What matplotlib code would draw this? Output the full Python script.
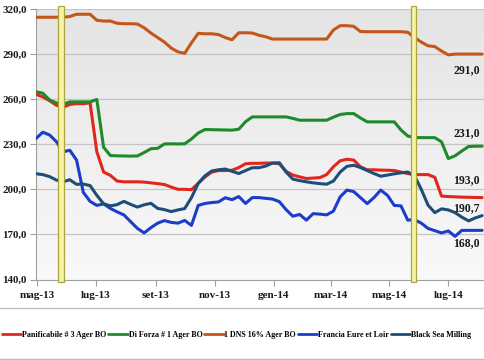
import numpy as np
import pandas as pd
import matplotlib
matplotlib.use("Agg")
import matplotlib.pyplot as plt
import matplotlib.dates as mdates
from matplotlib.patches import Rectangle
from matplotlib.lines import Line2D
from matplotlib.colors import LinearSegmentedColormap

# ---------------- data ----------------
dates = pd.date_range("2013-04-30", periods=67, freq="7D")

panificabile = [263.3, 261.5, 259.0, 256.0, 254.5, 256.5, 257.0, 257.0, 257.5, 225.0,
                211.5, 209.3, 205.5, 205.0, 205.0, 205.0, 204.8, 204.3, 203.8, 203.2,
                201.5, 200.0, 200.0, 199.8, 204.0, 208.2, 211.5, 212.5, 212.5, 212.7,
                214.5, 217.0, 217.3, 217.3, 217.5, 217.5, 217.0, 212.0, 209.5, 208.3,
                207.2, 207.5, 207.8, 209.8, 215.0, 219.0, 220.0, 219.5, 215.0, 213.0,
                213.0, 212.8, 212.7, 212.5, 211.5, 210.5, 209.8, 209.8, 209.8, 208.0,
                195.5, 195.2, 195.0, 194.8, 194.7, 194.6, 194.5]

di_forza = [264.9, 264.0, 259.5, 257.5, 256.5, 258.2, 258.2, 258.2, 258.2, 259.8,
            228.0, 222.5, 222.3, 222.2, 222.1, 222.2, 224.5, 227.0, 227.3, 230.2,
            230.3, 230.2, 230.3, 233.5, 237.5, 239.8, 239.7, 239.6, 239.5, 239.4,
            240.0, 245.0, 248.2, 248.2, 248.2, 248.2, 248.2, 248.2, 247.2, 246.0,
            246.0, 246.0, 246.0, 246.0, 248.0, 249.8, 250.4, 250.4, 247.5, 244.9,
            244.9, 244.9, 244.9, 244.9, 239.5, 235.5, 234.4, 234.4, 234.4, 234.4,
            231.6, 220.5, 222.3, 225.5, 228.5, 228.7, 228.7]

dns = [314.5, 314.5, 314.5, 314.5, 314.5, 315.0, 316.5, 316.5, 316.5, 312.5,
       312.0, 312.0, 310.5, 310.2, 310.2, 310.0, 307.5, 304.0, 301.0, 298.0,
       294.0, 291.5, 290.5, 297.5, 303.8, 303.5, 303.5, 303.0, 301.0, 299.5,
       304.2, 304.2, 304.0, 302.5, 301.5, 300.0, 300.0, 300.0, 300.0, 300.0,
       300.0, 300.0, 300.0, 300.0, 306.0, 308.9, 308.9, 308.5, 305.0, 304.9,
       304.9, 304.9, 304.9, 304.9, 304.9, 304.5, 301.0, 298.0, 295.5, 295.0,
       292.0, 289.5, 290.0, 290.0, 290.0, 290.0, 290.0]

francia = [233.8, 238.0, 236.2, 231.8, 225.0, 226.0, 219.5, 198.0, 192.0, 189.3,
           190.3, 187.3, 185.0, 183.0, 178.5, 174.0, 171.0, 174.5, 177.5, 179.2,
           178.0, 177.5, 179.3, 176.0, 189.3, 190.6, 191.2, 191.6, 194.4, 193.1,
           195.2, 190.6, 194.5, 194.5, 194.0, 193.5, 191.8, 186.5, 182.1, 183.3,
           179.5, 183.8, 183.5, 183.0, 185.5, 195.0, 199.5, 198.5, 194.5, 190.5,
           194.5, 199.5, 196.0, 189.3, 189.0, 179.5, 179.8, 177.5, 174.0, 172.5,
           171.0, 172.3, 168.7, 172.7, 172.7, 172.7, 172.7]

black_sea = [210.4, 209.8, 208.5, 206.2, 205.0, 206.4, 203.3, 203.5, 202.5, 196.0,
             190.4, 189.0, 189.8, 192.0, 190.0, 188.2, 189.7, 190.7, 187.3, 186.5,
             185.2, 186.3, 187.2, 194.5, 204.0, 209.0, 212.2, 213.0, 213.5, 212.0,
             210.5, 212.5, 214.4, 214.4, 215.5, 217.5, 217.7, 211.5, 206.8, 205.8,
             205.0, 204.3, 203.8, 203.4, 205.5, 211.5, 215.3, 216.0, 214.5, 212.5,
             210.5, 208.7, 209.5, 210.3, 211.0, 211.5, 209.0, 200.0, 189.5, 184.5,
             187.0, 186.3, 184.5, 181.5, 179.0, 181.0, 182.5]

series_names = ["Panificabile # 3 Ager BO", "Di Forza # 1 Ager BO", "1 DNS 16% Ager BO",
                "Francia Eure et Loir", "Black Sea Milling"]
series_colors = ["#e2261c", "#1e8a2a", "#c4561a", "#1c3ccc", "#1e4d78"]

month_ticks = ["2013-05-01", "2013-07-01", "2013-09-01", "2013-11-01",
               "2014-01-01", "2014-03-01", "2014-05-01", "2014-07-01"]
month_labels = ["mag-13", "lug-13", "set-13", "nov-13", "gen-14", "mar-14", "mag-14", "lug-14"]
y_ticks = [140, 170, 200, 230, 260, 290, 320]

highlight_spans = [("2013-05-23", "2013-05-29"), ("2014-05-23", "2014-05-29")]
end_labels = ["291,0", "231,0", "193,0", "190,7", "168,0"]
end_label_y = [279.3, 237.3, 206.0, 187.3, 164.0]

# ---------------- figure ----------------
SERIF = ["Liberation Serif", "DejaVu Serif"]
fig = plt.figure(figsize=(4.85, 3.6), dpi=100)
fig.patch.set_facecolor("white")
ax = fig.add_axes([36 / 485, 1 - 279.5 / 360, 449 / 485, 270.5 / 360])

# gradient background
grad = np.linspace(0, 1, 256).reshape(-1, 1)
cmap = LinearSegmentedColormap.from_list("bg", ["#f9f9f9", "#e4e4e4"])
ax.imshow(grad, aspect="auto", cmap=cmap, extent=[0, 1, 1, 0],
          transform=ax.transAxes, zorder=0)

for v in y_ticks:
    ax.axhline(v, color="#c4c4c4", lw=0.9, zorder=1)

all_series = [panificabile, di_forza, dns, francia, black_sea]
for vals, name, col in zip(all_series, series_names, series_colors):
    ax.plot(dates, vals, color=col, lw=2.2, label=name, zorder=3,
            solid_joinstyle="round", solid_capstyle="round")

ax.set_ylim(140, 320)
x_left = pd.Timestamp("2013-04-30")
x_right = x_left + pd.Timedelta(days=465)
ax.set_xlim(mdates.date2num(x_left), mdates.date2num(x_right))

for a, b in highlight_spans:
    x0 = mdates.date2num(pd.Timestamp(a))
    x1 = mdates.date2num(pd.Timestamp(b))
    r = Rectangle((x0, 138.6), x1 - x0, 322.2 - 138.6, facecolor="#f8f3a2",
                  edgecolor="#a9a640", lw=0.9, zorder=4, clip_on=False)
    ax.add_patch(r)

ax.set_yticks(y_ticks)
ax.set_yticklabels([f"{v:.1f}".replace(".", ",") for v in y_ticks])
ax.set_xticks([mdates.date2num(pd.Timestamp(d)) for d in month_ticks])
ax.set_xticklabels(month_labels)
for lab in ax.get_yticklabels():
    lab.set_fontfamily(SERIF)
    lab.set_fontweight("bold")
    lab.set_fontsize(7.9)
    lab.set_color("#1a1a1a")
for lab in ax.get_xticklabels():
    lab.set_fontfamily(SERIF)
    lab.set_fontweight("bold")
    lab.set_fontsize(8)
    lab.set_color("#1a1a1a")
ax.tick_params(axis="y", length=4, color="#a0a0a0", pad=2.5)
ax.tick_params(axis="x", length=4, color="#a0a0a0", pad=4)

for s in ["top", "right"]:
    ax.spines[s].set_visible(False)
ax.spines["left"].set_color("#a0a0a0")
ax.spines["bottom"].set_color("#a0a0a0")

x_lab = mdates.date2num(pd.Timestamp("2014-07-20"))
for txt, yv in zip(end_labels, end_label_y):
    ax.text(x_lab, yv, txt, fontfamily=SERIF, fontweight="bold", fontsize=8.5,
            color="#1a1a1a", ha="center", va="center", zorder=5)

# legend area
fig.add_artist(Line2D([0, 1], [1 - 308 / 360] * 2, color="#bdbdbd", lw=1.0,
                      transform=fig.transFigure))
fig.add_artist(Line2D([0, 1], [1 - 359 / 360] * 2, color="#bdbdbd", lw=1.0,
                      transform=fig.transFigure))
leg = fig.legend(loc="center left", bbox_to_anchor=(2 / 485, 1 - 335 / 360), ncol=5,
                 frameon=False, prop={"family": SERIF, "weight": "bold", "size": 5.8},
                 handlelength=2.4, handletextpad=0.1, columnspacing=0.25,
                 borderpad=0, borderaxespad=0)
for h in leg.get_lines():
    h.set_linewidth(2.0)

fig.savefig("out.png", dpi=100)
